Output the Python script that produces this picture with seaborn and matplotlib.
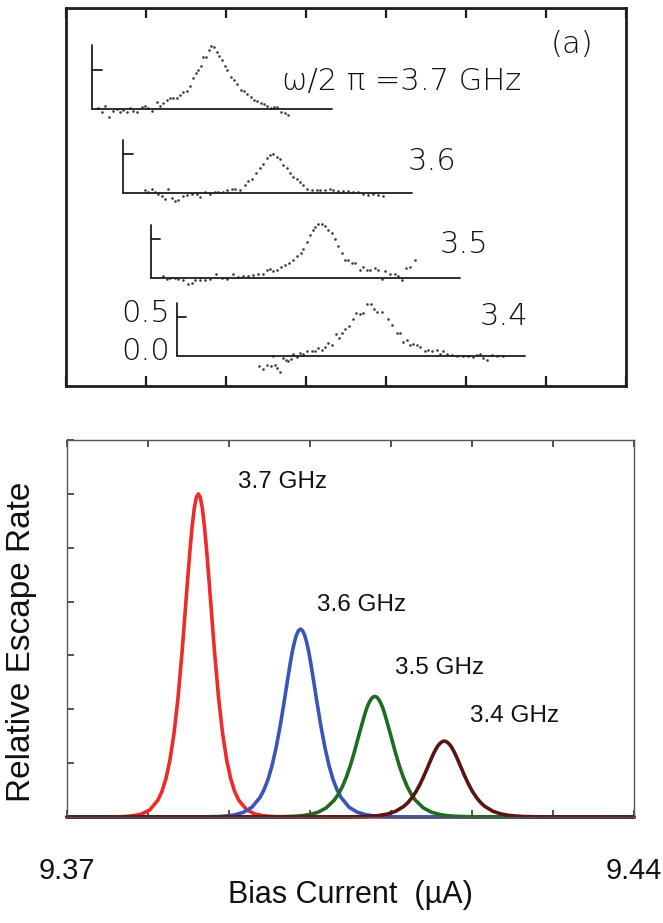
import numpy as np
import matplotlib
matplotlib.use("Agg")
import matplotlib.pyplot as plt
import seaborn as sns

# ------------------------------------------------------------------ data
x_ticks = [9.37, 9.38, 9.39, 9.40, 9.41, 9.42, 9.43, 9.44]
x_tick_labels = ["9.37", "", "", "", "", "", "", "9.44"]
y_ticks = [0, 1, 2, 3, 4, 5, 6, 7]

# bottom panel: calculated escape-rate curves
freq_labels = ["3.7 GHz", "3.6 GHz", "3.5 GHz", "3.4 GHz"]
peak_centers = [9.38621, 9.39883, 9.40800, 9.41658]
offsets_uA = [-0.012, -0.010, -0.009, -0.008, -0.007, -0.006, -0.005, -0.0045,
              -0.004, -0.0035, -0.003, -0.0025, -0.002, -0.0015, -0.00125,
              -0.001, -0.00075, -0.0005, -0.00025, 0.0,
              0.00025, 0.0005, 0.00075, 0.001, 0.00125, 0.0015, 0.002, 0.0025,
              0.003, 0.0035, 0.004, 0.0045, 0.005, 0.006, 0.007, 0.008, 0.009,
              0.010, 0.012]
rate_37 = [0.001, 0.004, 0.010, 0.024, 0.056, 0.13, 0.31, 0.47, 0.71, 1.06,
           1.55, 2.22, 3.07, 4.05, 4.54, 5.00, 5.41, 5.73, 5.93, 6.00,
           5.93, 5.73, 5.41, 5.00, 4.54, 4.05, 3.07, 2.22, 1.55, 1.06,
           0.71, 0.47, 0.31, 0.13, 0.056, 0.024, 0.010, 0.004, 0.001]
rate_36 = [0.002, 0.010, 0.021, 0.044, 0.090, 0.181, 0.363, 0.508, 0.703, 0.965,
           1.30, 1.70, 2.16, 2.64, 2.87, 3.08, 3.25, 3.38, 3.46, 3.49,
           3.46, 3.38, 3.25, 3.08, 2.87, 2.64, 2.16, 1.70, 1.30, 0.965,
           0.703, 0.508, 0.363, 0.181, 0.090, 0.044, 0.021, 0.010, 0.002]
rate_35 = [0.003, 0.013, 0.024, 0.047, 0.089, 0.169, 0.314, 0.423, 0.565, 0.745,
           0.964, 1.22, 1.50, 1.77, 1.90, 2.02, 2.11, 2.18, 2.225, 2.24,
           2.225, 2.18, 2.11, 2.02, 1.90, 1.77, 1.50, 1.22, 0.964, 0.745,
           0.565, 0.423, 0.314, 0.169, 0.089, 0.047, 0.024, 0.013, 0.003]
rate_34 = [0.002, 0.008, 0.015, 0.029, 0.056, 0.106, 0.197, 0.266, 0.356, 0.469,
           0.607, 0.768, 0.943, 1.12, 1.20, 1.27, 1.33, 1.37, 1.40, 1.41,
           1.40, 1.37, 1.33, 1.27, 1.20, 1.12, 0.943, 0.768, 0.607, 0.469,
           0.356, 0.266, 0.197, 0.106, 0.056, 0.029, 0.015, 0.008, 0.002]
curve_rates = [rate_37, rate_36, rate_35, rate_34]
curve_colors = ["#ee2a2a", "#3a54b8", "#1f6b24", "#5a1414"]

# top panel (a): measured data, offset traces
meas_x_37 = [9.37410, 9.37452, 9.37493, 9.37547, 9.37597, 9.37639, 9.37681, 9.37722,
             9.37764, 9.37806, 9.37847, 9.37897, 9.37951, 9.37993, 9.38034, 9.38076,
             9.38139, 9.38180, 9.38222, 9.38264, 9.38305, 9.38347, 9.38389, 9.38430,
             9.38472, 9.38514, 9.38555, 9.38597, 9.38630, 9.38659, 9.38688, 9.38721,
             9.38755, 9.38788, 9.38821, 9.38855, 9.38888, 9.38921, 9.38955, 9.38988,
             9.39021, 9.39063, 9.39105, 9.39146, 9.39188, 9.39230, 9.39271, 9.39313,
             9.39355, 9.39396, 9.39438, 9.39480, 9.39521, 9.39563, 9.39605, 9.39646,
             9.39688, 9.39742, 9.39784]
meas_r_37 = [0.02, -0.03, 0.04, -0.10, -0.02, 0.01, -0.03, -0.01,
             -0.03, 0.02, -0.02, -0.04, 0.03, 0.04, 0.02, -0.02,
             0.10, 0.04, 0.08, 0.12, 0.14, 0.14, 0.15, 0.18,
             0.22, 0.24, 0.30, 0.40, 0.46, 0.50, 0.55, 0.67,
             0.67, 0.76, 0.81, 0.80, 0.74, 0.68, 0.63, 0.55,
             0.50, 0.42, 0.37, 0.32, 0.25, 0.24, 0.20, 0.16,
             0.12, 0.11, 0.08, 0.07, 0.04, 0.02, 0.03, 0.03,
             -0.03, -0.05, -0.07]
meas_x_36 = [9.37993, 9.38035, 9.38076, 9.38118, 9.38159, 9.38201, 9.38243, 9.38284,
             9.38326, 9.38368, 9.38409, 9.38472, 9.38513, 9.38576, 9.38638, 9.38680,
             9.38742, 9.38805, 9.38867, 9.38909, 9.38971, 9.39013, 9.39075, 9.39117,
             9.39179, 9.39242, 9.39284, 9.39325, 9.39379, 9.39429, 9.39471, 9.39513,
             9.39554, 9.39596, 9.39637, 9.39679, 9.39721, 9.39762, 9.39804, 9.39846,
             9.39887, 9.39929, 9.39971, 9.40012, 9.40075, 9.40137, 9.40179, 9.40241,
             9.40304, 9.40345, 9.40408, 9.40470, 9.40533, 9.40595, 9.40658, 9.40720,
             9.40783, 9.40845, 9.40908, 9.40970]
meas_r_36 = [0.04, 0.02, 0.05, 0.02, -0.01, -0.04, -0.08, 0.05,
             -0.06, -0.10, -0.09, -0.03, -0.02, -0.01, -0.01, -0.05,
             0.01, -0.01, 0.01, 0.02, 0.02, 0.04, 0.05, 0.06,
             0.04, 0.11, 0.16, 0.18, 0.26, 0.32, 0.38, 0.45,
             0.49, 0.50, 0.46, 0.44, 0.36, 0.32, 0.26, 0.21,
             0.18, 0.14, 0.11, 0.05, 0.04, 0.04, 0.04, 0.04,
             0.05, 0.04, 0.03, 0.03, 0.03, 0.02, 0.01, -0.01,
             -0.02, -0.01, -0.02, -0.03]
meas_x_35 = [9.38222, 9.38264, 9.38305, 9.38368, 9.38409, 9.38472, 9.38534, 9.38576,
             9.38618, 9.38680, 9.38743, 9.38805, 9.38880, 9.38951, 9.39013, 9.39096,
             9.39159, 9.39221, 9.39284, 9.39346, 9.39408, 9.39471, 9.39521, 9.39554,
             9.39596, 9.39638, 9.39688, 9.39742, 9.39796, 9.39846, 9.39896, 9.39937,
             9.39971, 9.40012, 9.40054, 9.40088, 9.40121, 9.40158, 9.40200, 9.40241,
             9.40283, 9.40325, 9.40366, 9.40408, 9.40450, 9.40491, 9.40533, 9.40575,
             9.40616, 9.40679, 9.40720, 9.40762, 9.40804, 9.40866, 9.40908, 9.40949,
             9.40991, 9.41054, 9.41116, 9.41158, 9.41200, 9.41254, 9.41304, 9.41366]
meas_r_35 = [0.03, -0.01, 0.00, 0.00, -0.01, -0.02, -0.07, -0.06,
             -0.02, -0.02, -0.02, -0.01, 0.06, 0.00, -0.01, 0.06,
             0.01, 0.03, 0.03, 0.04, 0.06, 0.06, 0.10, 0.12,
             0.09, 0.10, 0.15, 0.17, 0.20, 0.24, 0.28, 0.32,
             0.37, 0.46, 0.56, 0.62, 0.66, 0.70, 0.70, 0.67,
             0.62, 0.58, 0.50, 0.41, 0.32, 0.24, 0.23, 0.19,
             0.19, 0.10, 0.15, 0.11, 0.10, 0.13, 0.11, -0.01,
             0.09, 0.06, 0.06, 0.03, -0.02, 0.13, 0.15, 0.23]
meas_x_34 = [9.39421, 9.39471, 9.39513, 9.39563, 9.39587, 9.39617, 9.39646, 9.39679,
             9.39721, 9.39754, 9.39783, 9.39812, 9.39846, 9.39888,
             9.39929, 9.39970, 9.40012, 9.40074, 9.40116, 9.40158, 9.40200, 9.40241,
             9.40283, 9.40325, 9.40379, 9.40420, 9.40449, 9.40491, 9.40545, 9.40595,
             9.40628, 9.40678, 9.40720, 9.40761, 9.40811, 9.40853, 9.40895, 9.40949,
             9.41032, 9.41074, 9.41137, 9.41178, 9.41220, 9.41262, 9.41303, 9.41345,
             9.41386, 9.41428, 9.41491, 9.41532, 9.41574, 9.41636, 9.41678, 9.41720,
             9.41761, 9.41824, 9.41886, 9.41969, 9.42032, 9.42094, 9.42136, 9.42177,
             9.42219, 9.42261, 9.42323, 9.42386, 9.42469]
meas_r_34 = [-0.13, -0.17, -0.12, -0.13, 0.00, -0.12, -0.16, -0.20,
             -0.03, -0.05, -0.07, -0.04, 0.03, -0.01,
             0.04, 0.03, 0.07, 0.07, 0.06, 0.10, 0.08, 0.12,
             0.16, 0.14, 0.28, 0.23, 0.30, 0.35, 0.38, 0.48,
             0.55, 0.54, 0.55, 0.67, 0.67, 0.60, 0.57, 0.57,
             0.47, 0.40, 0.30, 0.29, 0.18, 0.21, 0.14, 0.15,
             0.14, 0.12, 0.06, 0.08, 0.06, 0.08, 0.03, 0.06,
             0.03, 0.01, 0.00, 0.00, 0.00, -0.01, 0.01, 0.03,
             -0.02, -0.05, 0.01, 0.00, 0.00]
meas_x = [meas_x_37, meas_x_36, meas_x_35, meas_x_34]
meas_r = [meas_r_37, meas_r_36, meas_r_35, meas_r_34]
trace_labels = ["\u03c9/2 \u03c0 =3.7 GHz", "3.6", "3.5", "3.4"]

# ------------------------------------------------------------------ layout
trace_base = [3.547, 2.471, 1.381, 0.385]          # vertical offsets of traces
trace_axis_x = [(9.37335, 9.40325), (9.37722, 9.41324),
                (9.38064, 9.41927), (9.38389, 9.42739)]
trace_axis_h = [0.82, 0.68, 0.68, 0.68]
trace_label_pos = [(9.39700, 3.91), (9.41277, 2.872), (9.41677, 1.82), (9.42177, 0.897)]
curve_label_pos = [(9.39111, 6.22), (9.40086, 3.94), (9.41049, 2.77), (9.41975, 1.875)]

sns.set_theme(style="white")
plt.rcParams["font.family"] = ["Liberation Sans", "DejaVu Sans"]

W, H = 663, 923
fig = plt.figure(figsize=(W / 100, H / 100), dpi=100)
fig.patch.set_facecolor("white")

# ---------------- top panel
ax_t = fig.add_axes([65.5 / W, 1 - 386 / H, 560.5 / W, 378 / H])
ax_t.set_xlim(x_ticks[0], x_ticks[-1])
ax_t.set_ylim(0, 4.846)
ink = "#1e1e1e"
top_font = dict(fontsize=22, family="DejaVu Sans", fontweight="light", color="#111111")
for i in range(4):
    base = trace_base[i]
    ys = [base + r for r in meas_r[i]]
    sns.scatterplot(x=meas_x[i], y=ys, ax=ax_t, s=3.5, color="#3a3a3a",
                    marker="o", linewidth=0, legend=False)
    x0, x1 = trace_axis_x[i]
    ax_t.plot([x0, x0], [base, base + trace_axis_h[i]], color=ink, lw=1.3)
    ax_t.plot([x0, x1], [base, base], color=ink, lw=1.3)
    ax_t.plot([x0, x0 + 0.0012], [base + 0.5, base + 0.5], color=ink, lw=1.3)
    lx, ly = trace_label_pos[i]
    ax_t.text(lx, ly, trace_labels[i], ha="left", va="center", **top_font)
ax_t.text(9.43326, 4.372, "(a)", ha="center", va="center", **top_font)
ax_t.text(9.38305, 0.93, "0.5", ha="right", va="center", **top_font)
ax_t.text(9.38305, 0.436, "0.0", ha="right", va="center", **top_font)
ax_t.set_xticks(x_ticks)
ax_t.set_xticklabels([])
ax_t.set_yticks([])
ax_t.tick_params(axis="x", direction="in", length=7, width=1.6, top=True,
                 bottom=True, colors=ink)
for sp in ax_t.spines.values():
    sp.set_color(ink)
    sp.set_linewidth(2)

# ---------------- bottom panel
ax_b = fig.add_axes([67 / W, 1 - 817 / H, 567 / W, 377 / H])
for i in range(4):
    xs = [x_ticks[0]] + [peak_centers[i] + o for o in offsets_uA] + [x_ticks[-1]]
    ys = [0.0] + curve_rates[i] + [0.0]
    sns.lineplot(x=xs, y=ys, ax=ax_b, color=curve_colors[i], lw=2.6,
                 sort=False, estimator=None, clip_on=False)
    lx, ly = curve_label_pos[i]
    ax_b.text(lx, ly, freq_labels[i], ha="left", va="center", fontsize=17.5,
              color="#111111")
ax_b.set_xlim(x_ticks[0], x_ticks[-1])
ax_b.set_ylim(0, 7)
ax_b.set_xticks(x_ticks)
ax_b.set_xticklabels(x_tick_labels)
ax_b.set_yticks(y_ticks)
ax_b.set_yticklabels([])
ax_b.set_xlabel("")
ax_b.set_ylabel("")
ax_b.tick_params(axis="x", direction="in", length=5, width=1.2, top=True,
                 bottom=True, labelsize=21, pad=29, colors="#333333",
                 labelcolor="#111111")
ax_b.tick_params(axis="y", direction="in", length=5, width=1.2, left=True,
                 right=False, colors="#333333")
for sp in ax_b.spines.values():
    sp.set_color("#555555")
    sp.set_linewidth(1.0)

fig.text(21.7 / W, 1 - 642 / H, "Relative Escape Rate", rotation=90,
         ha="center", va="center", fontsize=24, color="#111111")
fig.text(350 / W, 1 - 895 / H, "Bias Current  (\u00b5A)", ha="center",
         va="center", fontsize=22, color="#111111")

fig.savefig("out.png", dpi=100, facecolor="white")
